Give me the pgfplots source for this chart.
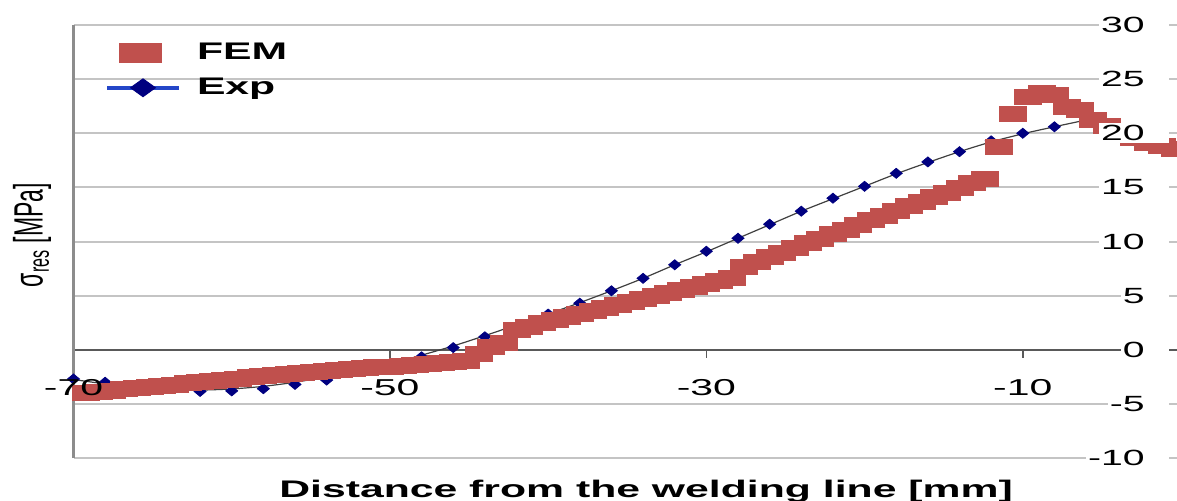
\documentclass[border=0pt]{standalone}
\usepackage{fontspec}
\setmainfont[FakeStretch=1.78]{Liberation Sans}
\newfontfamily\plainfont{Liberation Sans}
\usepackage{pgfplots}
\pgfplotsset{compat=1.18}
\definecolor{femred}{HTML}{C0504D}
\definecolor{expnavy}{HTML}{000080}
\definecolor{expblue}{HTML}{2446C8}
\definecolor{gridgray}{HTML}{C4C4C4}
\definecolor{axisgray}{HTML}{8C8C8C}
\pgfplotsset{layers/mylayers/.define layer set={axis background,axis grid,axis ticks,axis lines,main,axis tick labels,axis descriptions,axis foreground}{/pgfplots/layers/standard}}
\newcommand\yl[1]{#1\hspace*{11pt}}

\pgfplotstableread{
x y
-69.2 -4.00
-68.4 -3.89
-67.6 -3.78
-66.8 -3.66
-66.0 -3.55
-65.2 -3.44
-64.4 -3.33
-63.6 -3.22
-62.8 -3.10
-62.0 -2.99
-61.2 -2.88
-60.4 -2.77
-59.6 -2.66
-58.8 -2.54
-58.0 -2.43
-57.2 -2.32
-56.4 -2.21
-55.6 -2.10
-54.8 -2.02
-54.0 -1.94
-53.2 -1.86
-52.4 -1.78
-51.6 -1.70
-50.8 -1.62
-50.0 -1.54
-49.2 -1.46
-48.4 -1.38
-47.6 -1.30
-46.8 -1.22
-46.0 -1.14
-45.2 -1.06
-44.4 -0.40
-43.6 0.30
-42.8 0.65
-42.0 1.80
-41.2 2.15
-40.4 2.50
-39.6 2.80
-38.8 3.07
-38.0 3.34
-37.2 3.62
-36.4 3.89
-35.6 4.16
-34.8 4.43
-34.0 4.70
-33.2 4.98
-32.4 5.25
-31.6 5.52
-30.8 5.79
-30.0 6.06
-29.2 6.34
-28.4 6.60
-27.6 7.70
-26.8 8.13
-26.0 8.55
-25.2 8.98
-24.4 9.41
-23.6 9.83
-22.8 10.26
-22.0 10.69
-21.2 11.11
-20.4 11.54
-19.6 11.97
-18.8 12.39
-18.0 12.82
-17.2 13.25
-16.4 13.67
-15.6 14.10
-14.8 14.53
-14.0 14.95
-13.2 15.38
-12.4 15.80
-11.5 18.70
-10.6 21.80
-9.7 23.40
-8.8 23.70
-8.0 23.50
-7.2 22.40
-6.4 22.20
-5.6 21.20
-4.7 20.70
-3.9 20.20
-3.0 19.60
-2.1 19.10
-1.2 18.80
-0.4 18.60
}\femdata

\pgfplotstableread{
x y
-70 -2.7
-68 -3.0
-66 -3.45
-64 -3.4
-62 -3.85
-60 -3.8
-58 -3.6
-56 -3.2
-54 -2.8
-52 -1.9
-50 -1.45
-48 -0.65
-46 0.2
-44 1.2
-42 2.05
-40 3.3
-38 4.3
-36 5.45
-34 6.6
-32 7.85
-30 9.1
-28 10.3
-26 11.6
-24 12.8
-22 14.0
-20 15.1
-18 16.3
-16 17.35
-14 18.3
-12 19.3
-10 20.0
-8 20.6
-6 21.1
}\expdata

\pgfplotstableread{
x y
-70 -2.75
-68 -3.15
-66 -3.45
-64 -3.65
-62 -3.72
-60 -3.62
-58 -3.38
-56 -3.0
-54 -2.5
-52 -1.9
-50 -1.3
-48 -0.5
-46 0.35
-44 1.3
-42 2.3
-40 3.3
-38 4.35
-36 5.45
-34 6.6
-32 7.85
-30 9.05
-28 10.3
-26 11.55
-24 12.8
-22 13.95
-20 15.1
-18 16.25
-16 17.3
-14 18.3
-12 19.2
-10 19.95
-8 20.6
-6.4 21.1
}\trenddata

\begin{document}
\begin{tikzpicture}
\begin{axis}[
  set layers=mylayers,
  at={(0,0)}, anchor=south west,
  scale only axis, width=553.75pt, height=216.5pt,
  xmin=-70, xmax=0, ymin=-10, ymax=30,
  clip=false,
  axis line style={draw=none},
  major tick length=0pt,
  xtick style={draw=none}, ytick style={draw=none},
  xtick={-70,-50,-30,-10}, xticklabels={-70,-50,-30,-10},
  xticklabel style={anchor=base, yshift=31.5pt, inner sep=0pt, font=\fontsize{11.5}{13}\selectfont},
  ytick={-10,-5,0,5,10,15,20,25,30},
  yticklabels={\yl{-10},\yl{-5},\yl{0},\yl{5},\yl{10},\yl{15},\yl{20},\yl{25},\yl{30}},
  ytick pos=right, yticklabel pos=right,
  yticklabel style={anchor=east, xshift=-6pt, inner sep=1pt, fill=white, font=\fontsize{11}{13}\selectfont},
  ymajorgrids, grid style={gridgray, line width=1pt},
  xlabel={Distance from the welding line [mm]},
  every axis x label/.style={at={(rel axis cs:0.517,0)}, anchor=base, yshift=-19.5pt, font=\bfseries\fontsize{12}{14}\selectfont},
  ylabel={\scalebox{1}[1.78]{\plainfont σ\textsubscript{res} [MPa]}},
  every axis y label/.style={at={(rel axis cs:-0.0375,0.515)}, rotate=90, anchor=center, font=\fontsize{11.5}{13}\selectfont},
  legend style={at={(rel axis cs:0,1)}, anchor=north west, xshift=15.75pt, yshift=-9pt,
    draw=none, fill=none, inner sep=0pt, outer sep=0pt, row sep=7.5pt, column sep=8pt,
    font=\bfseries\fontsize{12}{14}\selectfont, nodes={inner sep=0pt}},
  legend cell align=left,
]
\addlegendimage{legend image code/.code={
  \path[draw=none, fill=none] (0pt,0pt) rectangle (36pt,0.1pt);
  \path[draw=none, fill=femred] (6pt,-5pt) rectangle (27.5pt,5pt);}}
\addlegendentry{FEM}
\addlegendimage{legend image code/.code={
  \path[draw=expblue, fill=none, line width=2pt] (0pt,0pt) -- (36pt,0pt);
  \path[draw=expnavy, fill=expnavy, line width=0.4pt] (11.75pt,0pt) -- (18pt,4.5pt) -- (24.25pt,0pt) -- (18pt,-4.5pt) -- cycle;}}
\addlegendentry{Exp}

\addplot[black!65, line width=1pt, forget plot] coordinates {(-70,0) (0,0)};
\draw[black!65, line width=0.8pt] (axis cs:-70,0) -- ++(0pt,-4pt);
\draw[black!65, line width=0.8pt] (axis cs:-50,0) -- ++(0pt,-4pt);
\draw[black!65, line width=0.8pt] (axis cs:-30,0) -- ++(0pt,-4pt);
\draw[black!65, line width=0.8pt] (axis cs:-10,0) -- ++(0pt,-4pt);

\addplot[only marks, mark=diamond*, mark size=2.5pt,
  mark options={xscale=1.6, fill=expnavy, draw=expnavy}, forget plot] table[x=x, y=y] {\expdata};
\addplot[only marks, mark=square*, mark size=3.75pt,
  mark options={xscale=1.8, fill=femred, draw=femred}, forget plot] table[x=x, y=y] {\femdata};
\addplot[black!75, line width=0.6pt, smooth, no marks, forget plot] table[x=x, y=y] {\trenddata};
\addplot[axisgray, line width=1.5pt, forget plot] coordinates {(-70,-10) (-70,30)};
\end{axis}
\pgfresetboundingbox
\useasboundingbox (-36.75pt,-21pt) rectangle (551.75pt,229pt);
\end{tikzpicture}
\end{document}
